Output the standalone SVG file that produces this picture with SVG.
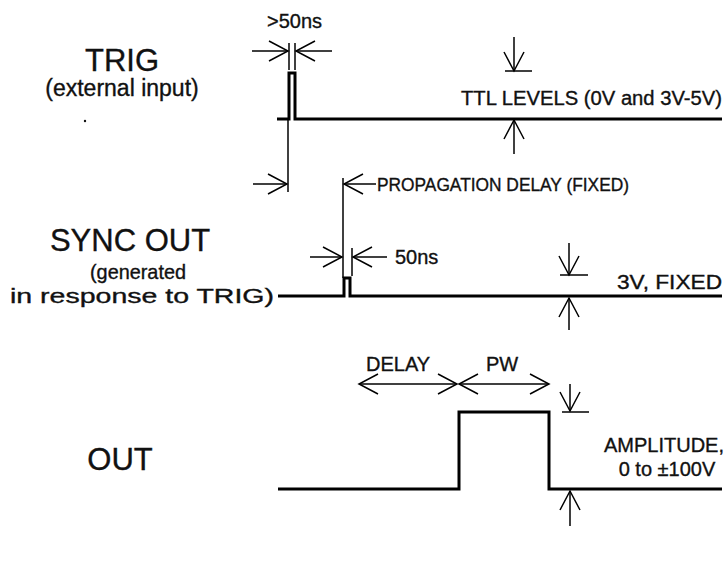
<svg xmlns="http://www.w3.org/2000/svg" width="728" height="576" viewBox="0 0 728 576">
<defs>
<marker id="v" viewBox="0 0 22 22" refX="20" refY="11" markerWidth="22" markerHeight="22" markerUnits="userSpaceOnUse" orient="auto-start-reverse">
<path d="M1,1 L20,11 L1,21" fill="none" stroke="#000" stroke-width="1.5"/>
</marker>
</defs>
<style>
text{font-family:"Liberation Sans",Arial,sans-serif;fill:#111;stroke:#111;stroke-width:0.35}
.big{font-size:31px}
.mid{font-size:23px}
.mid2{font-size:21px}
.sm{font-size:20px}
.sig{fill:none;stroke:#000;stroke-width:3}
.ln{fill:none;stroke:#000;stroke-width:1.5}
.ar{fill:none;stroke:#000;stroke-width:1.5;marker-end:url(#v)}
.ar2{fill:none;stroke:#000;stroke-width:1.5;marker-end:url(#v);marker-start:url(#v)}
</style>
<rect width="728" height="576" fill="#fff"/>

<g id="labels">
<text class="big" x="122" y="71" text-anchor="middle">TRIG</text>
<text class="mid" x="122" y="96" text-anchor="middle">(external input)</text>
<circle cx="85" cy="121" r="1.2" fill="#111"/>
<text class="big" x="130" y="251" text-anchor="middle">SYNC OUT</text>
<text class="mid2" x="138" y="279" text-anchor="middle" textLength="96" lengthAdjust="spacingAndGlyphs">(generated</text>
<text class="mid2" x="10" y="303" textLength="264" lengthAdjust="spacingAndGlyphs">in response to TRIG)</text>
<text class="big" x="120" y="470" text-anchor="middle">OUT</text>
</g>

<g id="trig">
<path class="sig" d="M277,119 H289 V73 H295 V119 H722"/>
<text class="sm" x="267" y="28">&gt;50ns</text>
<text class="sm" x="461" y="105" textLength="261" lengthAdjust="spacingAndGlyphs">TTL LEVELS (0V and 3V-5V)</text>
</g>

<g id="sync">
<path class="sig" d="M278,296 H344 V278 H350 V296 H722"/>
<text class="sm" x="617" y="289" textLength="105" lengthAdjust="spacingAndGlyphs">3V, FIXED</text>
<text class="sm" x="395" y="264">50ns</text>
<text class="sm" x="377" y="191" style="font-size:18px" textLength="252" lengthAdjust="spacingAndGlyphs">PROPAGATION DELAY (FIXED)</text>
</g>

<g id="out">
<path class="sig" d="M278,489 H459 V412 H549 V489 H722"/>
<text class="sm" x="366" y="371">DELAY</text>
<text class="sm" x="486" y="371">PW</text>
<text class="sm" x="664" y="452" text-anchor="middle">AMPLITUDE,</text>
<text class="sm" x="667" y="476" text-anchor="middle">0 to ±100V</text>
</g>

<g id="connectors">
<line class="ar" x1="252" y1="51" x2="288" y2="51"/>
<line class="ar" x1="332" y1="51" x2="296" y2="51"/>
<line class="ln" x1="289" y1="43" x2="289" y2="70"/>
<line class="ln" x1="295" y1="43" x2="295" y2="70"/>
<line class="ar" x1="514" y1="37" x2="514" y2="71"/>
<line class="ln" x1="505" y1="71" x2="532" y2="71"/>
<line class="ar" x1="514" y1="154" x2="514" y2="120"/>
<line class="ln" x1="288" y1="119" x2="288" y2="192"/>
<line class="ar" x1="253" y1="184" x2="287" y2="184"/>
<line class="ln" x1="343" y1="178" x2="343" y2="278"/>
<line class="ar" x1="376" y1="184" x2="344" y2="184"/>
<line class="ar" x1="310" y1="257" x2="342" y2="257"/>
<line class="ln" x1="352" y1="248" x2="352" y2="276"/>
<line class="ar" x1="387" y1="257" x2="353" y2="257"/>
<line class="ar" x1="569" y1="243" x2="569" y2="275"/>
<line class="ln" x1="560" y1="275" x2="588" y2="275"/>
<line class="ar" x1="569" y1="330" x2="569" y2="298"/>
<line class="ar2" x1="359" y1="384" x2="457" y2="384"/>
<line class="ar2" x1="459" y1="384" x2="549" y2="384"/>
<line class="ar" x1="570" y1="384" x2="570" y2="411"/>
<line class="ln" x1="562" y1="412" x2="589" y2="412"/>
<line class="ar" x1="570" y1="526" x2="570" y2="491"/>
</g>
</svg>
